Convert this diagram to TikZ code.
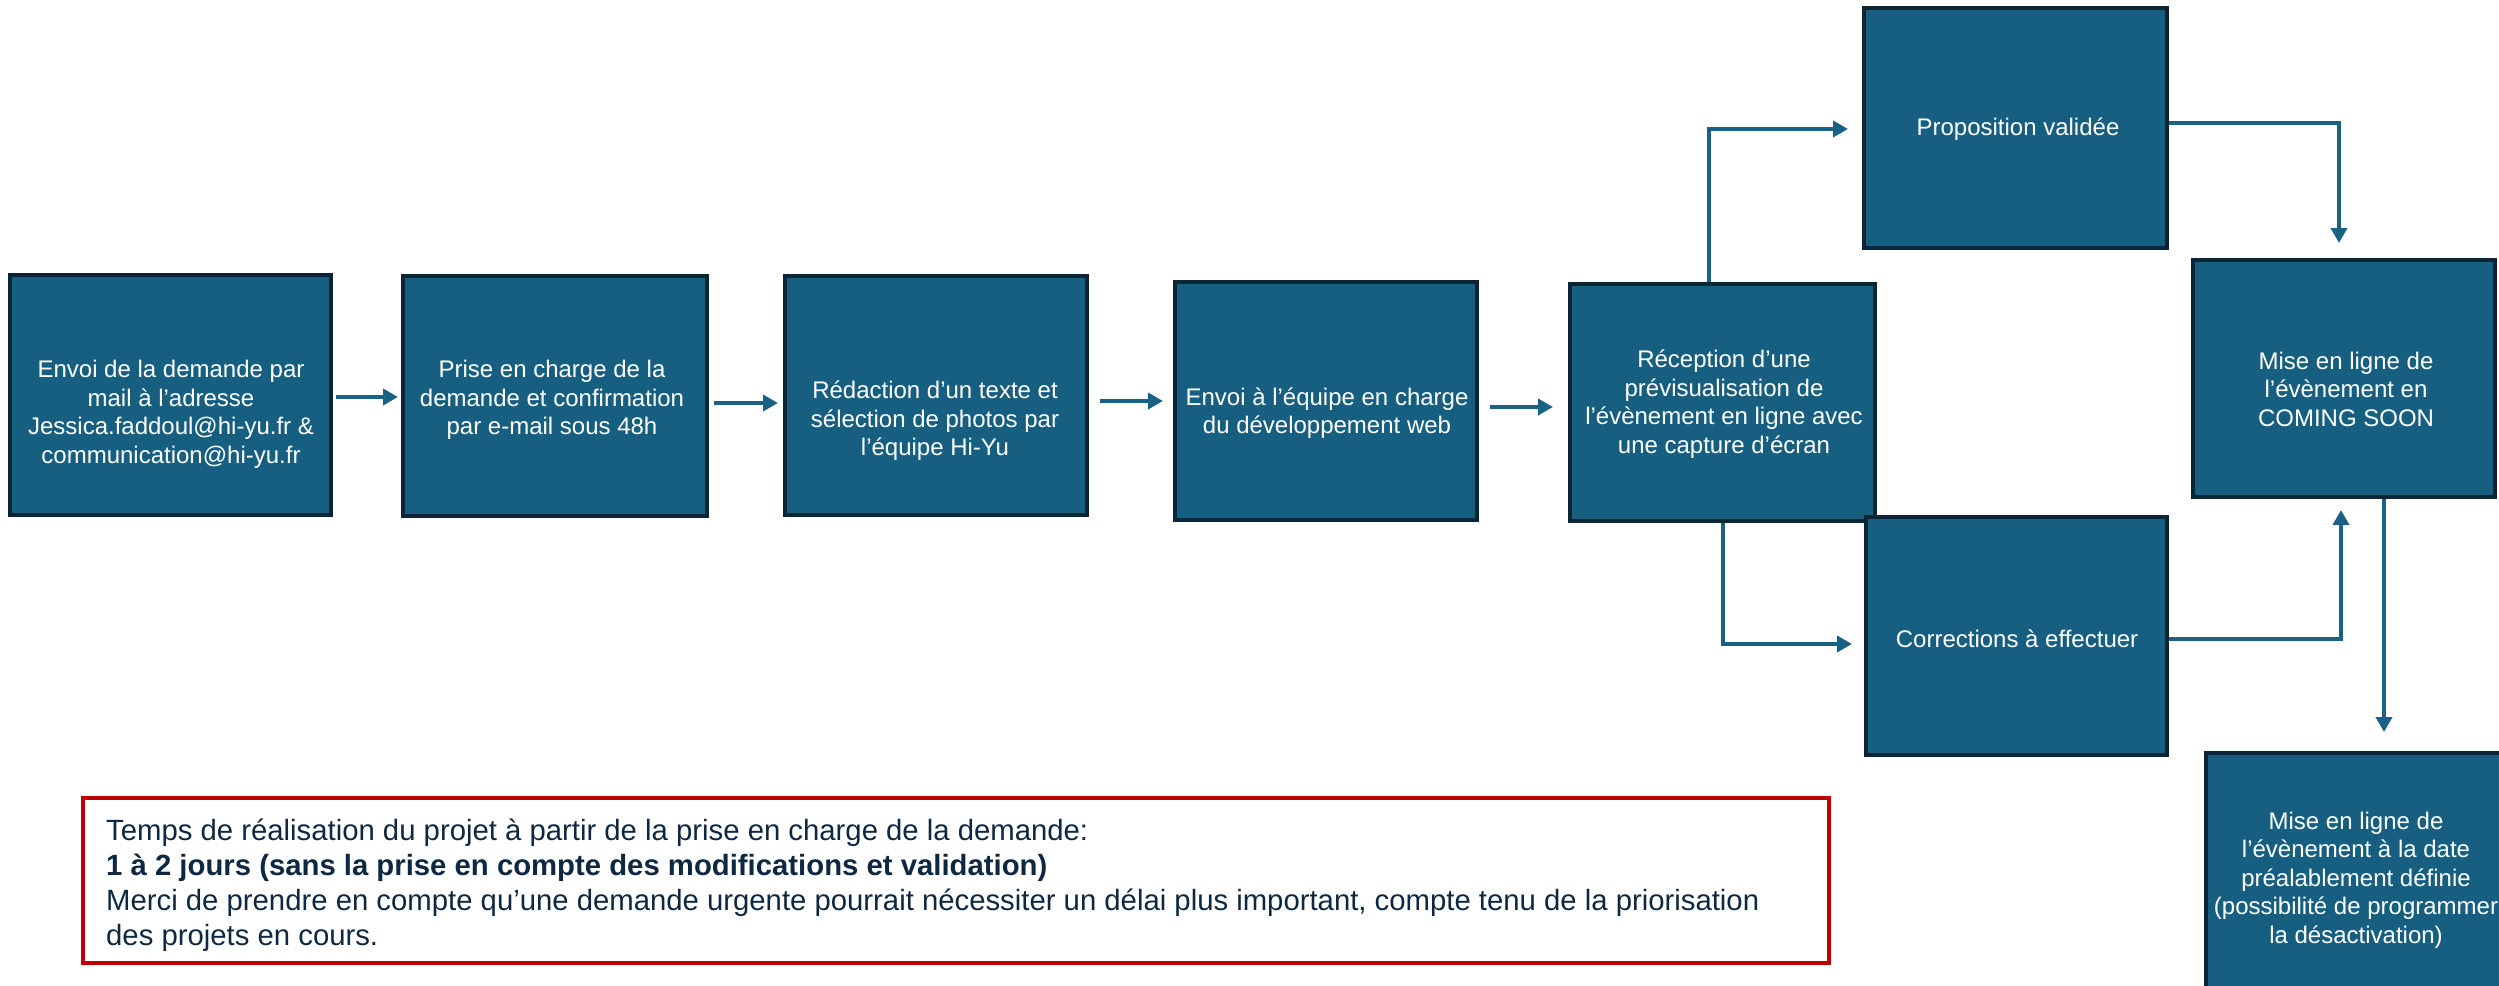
\documentclass[tikz,border=0pt]{standalone}
\usepackage{fontspec}
\setmainfont{Liberation Sans}
\usetikzlibrary{arrows.meta,calc}
\definecolor{boxfill}{HTML}{175F80}
\definecolor{boxline}{HTML}{0B2537}
\definecolor{arrcol}{HTML}{1A6186}
\definecolor{redline}{HTML}{C00000}
\definecolor{navytext}{HTML}{0E2841}
\tikzset{
  box/.style={draw=boxline, fill=boxfill, line width=4pt, rectangle, inner sep=0pt},
  boxtxt/.style={text=white, align=center, inner sep=0pt, font=\fontsize{24}{28.5}\selectfont},
  arr/.style={draw=arrcol, line width=4pt, -{Triangle[length=15pt,width=16pt]}},
}
\begin{document}
\begin{tikzpicture}[x=1pt,y=-1pt]
\useasboundingbox (0,0) rectangle (2499,985);
\clip (0,0) rectangle (2499,985);
% boxes (outer sizes minus border)
\node[box, minimum width=321pt, minimum height=240pt] (b1) at (170.5,395) {};
\node[box, minimum width=304pt, minimum height=240pt] (b2) at (555,396) {};
\node[box, minimum width=302pt, minimum height=239pt] (b3) at (936,395.5) {};
\node[box, minimum width=302pt, minimum height=238pt] (b4) at (1326,401) {};
\node[box, minimum width=305pt, minimum height=237pt] (b5) at (1722.5,402.5) {};
\node[box, minimum width=303pt, minimum height=240pt] (P) at (2015.5,128) {};
\node[box, minimum width=301pt, minimum height=238pt] (C) at (2016.5,636) {};
\node[box, minimum width=302pt, minimum height=237pt] (S) at (2344,378.5) {};
\node[box, minimum width=300pt, minimum height=254pt] (L) at (2356,880) {};
% texts
\node[boxtxt] (t1) at (171,414.5) {Envoi de la demande par\\mail à l’adresse\\Jessica.faddoul@hi-yu.fr \&\\communication@hi-yu.fr};
\node[boxtxt] (t2) at (552,400) {Prise en charge de la\\demande et confirmation\\par e-mail sous 48h};
\node[boxtxt] (t3) at (935,421) {Rédaction d’un texte et\\sélection de photos par\\l’équipe Hi-Yu};
\node[boxtxt] (t4) at (1327,413) {Envoi à l’équipe en charge\\du développement web};
\node[boxtxt] (t5) at (1724,404) {Réception d’une\\prévisualisation de\\l’évènement en ligne avec\\une capture d’écran};
\node[boxtxt] (tP) at (2018,129) {Proposition validée};
\node[boxtxt] (tC) at (2017,639) {Corrections à effectuer};
\node[boxtxt] (tS) at (2346,389) {Mise en ligne de\\l’évènement en\\COMING SOON};
\node[boxtxt] (tL) at (2356,880) {Mise en ligne de\\l’évènement à la date\\préalablement définie\\(possibilité de programmer\\la désactivation)};
% connectors
\draw[arr] ($(b1.east)+(3,2)$) -- ($(b2.west)+(-3,1)$);
\draw[arr] ($(b2.east)+(5,7)$) -- ($(b3.west)+(-5,7.5)$);
\draw[arr] ($(b3.east)+(11,5.5)$) -- ($(b4.west)+(-10,0)$);
\draw[arr] ($(b4.east)+(11,6)$) -- ($(b5.west)+(-15,4.5)$);
\draw[arr] ($(b5.north)+(-13.5,0)$) |- ($(P.west)+(-14,1)$);
\draw[arr] ($(P.east)+(0,-5)$) -| ($(S.north)+(-5,-15)$);
\draw[arr] (b5.south) |- ($(C.west)+(-12,8)$);
\draw[arr] ($(C.east)+(0,3)$) -| ($(S.south)+(-3,11)$);
\draw[arr] ($(S.south)+(40,0)$) -- ($(L.north)+(28,-19)$);
% note box
\node[draw=redline, line width=4pt, rectangle, minimum width=1746pt, minimum height=165pt, inner sep=0pt] (note) at (956,880.5) {};
\node[anchor=west, align=left, inner sep=0pt, text=navytext, font=\fontsize{29.3}{35}\selectfont] (notetxt) at (106,885) {Temps de réalisation du projet à partir de la prise en charge de la demande:\\\textbf{1 à 2 jours (sans la prise en compte des modifications et validation)}\\Merci de prendre en compte qu’une demande urgente pourrait nécessiter un délai plus important, compte tenu de la priorisation\\des projets en cours.};
\end{tikzpicture}
\end{document}
